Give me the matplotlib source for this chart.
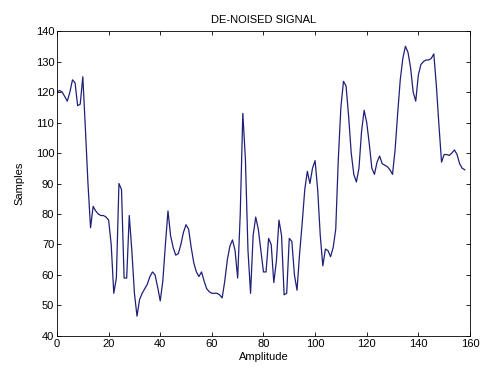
import numpy as np
import matplotlib
matplotlib.use('Agg')
import matplotlib.pyplot as plt

plt.rcParams['font.family'] = ['Liberation Sans', 'DejaVu Sans']

# de-noised signal (one value per sample index)
signal = [
    120, 120.5, 120, 118.5, 117, 120, 124, 123, 115.5, 116,
    125, 108, 90, 75.5, 82.5, 81, 80, 79.5, 79.5, 79,
    78, 70, 54, 59, 90, 88, 59, 59, 79.5, 68,
    54, 46.5, 52, 54, 55.5, 57, 59.5, 61, 60, 56,
    51.5, 58, 70, 81, 73, 69, 66.5, 67, 70, 74,
    76.5, 75, 69, 64, 61, 59.5, 61, 58, 55.5, 54.5,
    54, 54, 54, 53.5, 52.5, 58, 65, 69.5, 71.5, 68,
    59, 80, 113, 98, 68, 54, 73, 79, 75, 68,
    61, 61, 72, 70, 57.5, 64.5, 78, 73, 53.5, 54,
    72, 71, 60, 55, 67, 77, 88, 94, 90, 95,
    97.5, 88, 73, 63, 68.5, 68, 66, 69, 75, 98,
    115, 123.5, 122, 112, 100, 93, 90.5, 95, 107, 114,
    110, 103, 95, 93, 97, 99, 96.5, 96, 95.5, 94.5,
    93, 101, 113, 124, 131, 135, 133, 128, 120, 117,
    125.5, 129, 130, 130.5, 130.5, 131, 132.5, 122, 109, 97,
    99.5, 99.5, 99.2, 100, 101, 99.5, 96.5, 95, 94.5,
]
samples = np.arange(len(signal))

xticks = list(range(0, 161, 20))
yticks = list(range(40, 141, 10))

fig = plt.figure(figsize=(4.81, 3.67), dpi=100)
ax = fig.add_axes([0.1185, 0.0845, 0.8585, 0.831])
ax.plot(samples, signal, color='#1f2078', linewidth=0.9)

ax.set_xlim(0, 160)
ax.set_ylim(40, 140)
ax.set_xticks(xticks)
ax.set_yticks(yticks)
ax.tick_params(direction='in', top=True, right=True, labelsize=8, length=3, width=0.6, pad=2)
for s in ax.spines.values():
    s.set_linewidth(0.6)
ax.set_title('DE-NOISED SIGNAL', fontsize=8, pad=6)
ax.set_xlabel('Amplitude', fontsize=8, labelpad=2)
ax.set_ylabel('Samples', fontsize=8, labelpad=8)

fig.savefig('out.png', dpi=100)
